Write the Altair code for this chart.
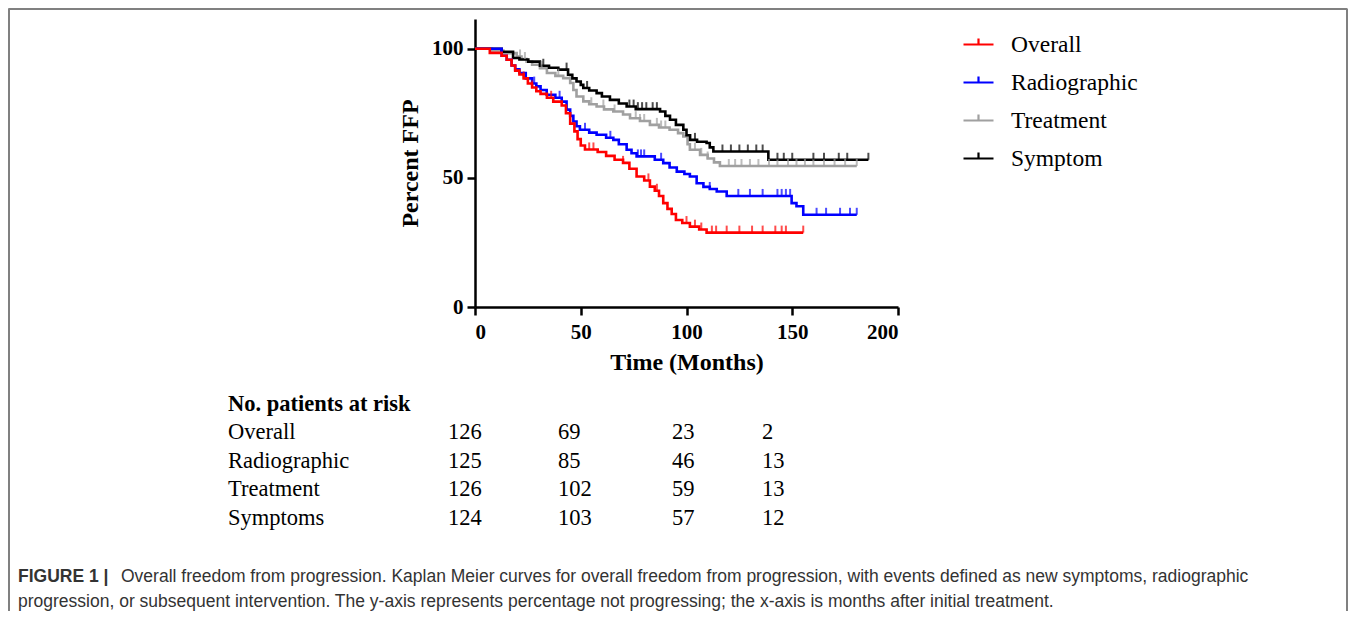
import altair as alt
import pandas as pd

# ---------------- data ----------------
series_names = ["Overall", "Radiographic", "Treatment", "Symptom"]
series_colors = ["#ff0000", "#0000ff", "#a0a0a0", "#000000"]

overall_t = [0, 7, 12.6, 15, 17.3, 19, 21, 23, 25, 27, 29, 31, 34, 37, 41, 43, 45, 47, 48.5, 50,
             52, 58, 62, 66, 70, 73, 76.4, 80, 82.7, 85, 87, 89, 91, 93, 95, 98, 101.6, 106, 109.5]
overall_s = [100, 98.4, 97.3, 95.7, 93.5, 91.5, 90, 88.5, 86.5, 85, 83.5, 82.5, 81, 79.5, 78, 75, 71, 68, 65, 62.5,
             61, 60, 58.5, 57, 55.8, 53.5, 50.5, 49, 46.6, 45, 43, 40.2, 38, 36, 33.7, 32.5, 31.1, 30, 28.8]
overall_end = 155.2
overall_censor = [23, 27, 36, 54, 56, 70, 82, 86, 100, 104, 107, 112, 114, 119, 125, 131, 136, 142, 145, 147, 155.2]

radio_t = [0, 12.6, 15, 17.3, 19, 21, 24, 27, 29, 31, 33.9, 38, 41, 43.3, 45, 46.5, 48, 49.6, 54, 57.5,
           62, 65.4, 68, 71.7, 74, 76.4, 85, 89, 92, 95.4, 99, 101.6, 104.8, 108, 111, 114.3, 119, 149.7, 152, 155.2]
radio_s = [100, 97.3, 95.7, 93.5, 92, 90.6, 88.5, 86.5, 85.4, 84, 82.2, 81, 79.5, 76.4, 74, 71.8, 70, 68.6, 67.5, 66.7,
           65.5, 64.7, 63, 60.9, 59.5, 58.3, 57, 55.7, 54, 52.4, 51.5, 50.5, 47.9, 46.5, 45.7, 44.7, 43, 40.2, 39, 35.7]
radio_end = 180.5
radio_censor = [28, 40, 52, 64, 77, 78.5, 80, 88, 111, 124.5, 130, 136, 143, 145, 147, 149, 161.5, 166, 172.6, 177.3, 180.5]

treat_t = [0, 8, 13.4, 19.7, 22, 24.4, 27, 30.7, 34, 38, 41.7, 45, 46.5, 48, 51.2, 54, 57.5, 61, 65.4, 70,
           73.3, 78, 82.7, 87, 92, 96, 98.5, 100.5, 101.6, 106.4, 110, 113, 115.8]
treat_s = [100, 99.3, 98.3, 97, 96, 95, 93.8, 92.5, 90.6, 89.5, 88.6, 86.7, 84, 81.5, 79.6, 78.5, 77.6, 76.5, 75.7, 74.5,
           73.1, 72, 70.5, 69.5, 68.6, 67.3, 66, 63, 60.9, 58.9, 57.5, 56, 54.6]
treat_end = 180.5
treat_censor = [21.3, 23.6, 31.5, 39.4, 45, 55, 60.7, 66, 76, 78, 80, 86, 88, 90, 104, 107, 110, 120, 123, 126,
                130, 134, 139, 143, 148, 152, 156, 160, 165, 170, 175, 180.5]

symp_t = [0, 12.6, 18, 21, 25.2, 30.7, 35, 39.4, 44, 46, 48, 50, 51.2, 54, 57.5, 60, 63.8, 68, 71.7, 76,
          87.5, 90, 92.2, 95, 98.5, 100, 101.7, 105, 109.5, 111, 112.7, 138.7]
symp_s = [100, 98.8, 96.4, 95.8, 95, 93.4, 92.6, 91.9, 89.9, 88.5, 87.3, 86, 84.8, 83.8, 82.8, 81.5, 80.2, 78.8, 77.6, 76.6,
          75.7, 74, 72.5, 70.5, 68.6, 66.5, 64.7, 64, 63.5, 61.8, 60.2, 57]
symp_end = 186
symp_censor = [32.3, 43.3, 53, 73, 75, 77, 79, 81, 84, 86, 104, 117, 121, 125, 129, 133, 136, 143, 146, 150,
               160, 165, 172, 176, 186]

risk_title = "No. patients at risk"
risk_rows = ["Overall", "Radiographic", "Treatment", "Symptoms"]
risk_overall = [126, 69, 23, 2]
risk_radio = [125, 85, 46, 13]
risk_treat = [126, 102, 59, 13]
risk_symp = [124, 103, 57, 12]

caption_bold = "FIGURE 1 |"
caption_line1 = ("Overall freedom from progression. Kaplan Meier curves for overall freedom from progression, "
                 "with events defined as new symptoms, radiographic")
caption_line2 = ("progression, or subsequent intervention. The y-axis represents percentage not progressing; "
                 "the x-axis is months after initial treatment.")

x_ticks = [0, 50, 100, 150, 200]
y_ticks = [0, 50, 100]

# ---------------- layout (page pixels) ----------------
OX, OY = 475, 19          # plot origin on page
W, H = 423, 288
PAD_L, PAD_T = OX - 8, OY - 8
TOTAL_W, TOTAL_H = 1340, 603


def px(x):
    return x - OX


def py(y):
    return y - OY


series = {
    "Overall": (overall_t, overall_s, overall_end, overall_censor),
    "Radiographic": (radio_t, radio_s, radio_end, radio_censor),
    "Treatment": (treat_t, treat_s, treat_end, treat_censor),
    "Symptom": (symp_t, symp_s, symp_end, symp_censor),
}


def surv_at(ts, ss, t):
    v = ss[0]
    for a, b in zip(ts, ss):
        if a <= t:
            v = b
    return v


color_scale = alt.Scale(domain=series_names, range=series_colors)
legend = alt.Legend(
    orient="none", legendX=487, legendY=9, title=None,
    symbolType="M-1,0H1M0,0V-0.4", symbolSize=900, symbolStrokeWidth=2.2,
    labelFont="Liberation Serif", labelFontSize=23.5, labelColor="black",
    labelOffset=16, rowPadding=10, padding=0,
)
x_enc = alt.X("t:Q", scale=alt.Scale(domain=[0, 200], nice=False),
              axis=alt.Axis(values=x_ticks, title="Time (Months)", labelPadding=6, titlePadding=8))
y_enc = alt.Y("s:Q", scale=alt.Scale(domain=[0, 111.5], nice=False),
              axis=alt.Axis(values=y_ticks, title="Percent FFP", labelPadding=4, titlePadding=9))

layers = []
draw_order = ["Treatment", "Symptom", "Radiographic", "Overall"]
for name in draw_order:
    ts, ss, end, cens = series[name]
    df = pd.DataFrame({"t": list(ts) + [end], "s": list(ss) + [ss[-1]], "series": name})
    layers.append(
        alt.Chart(df).mark_line(interpolate="step-after", strokeWidth=2.6).encode(
            x=x_enc, y=y_enc, color=alt.Color("series:N", scale=color_scale, legend=legend)
        )
    )
for name in draw_order:
    ts, ss, end, cens = series[name]
    col = series_colors[series_names.index(name)]
    cdf = pd.DataFrame({"t": cens, "s": [surv_at(ts, ss, c) for c in cens]})
    layers.append(
        alt.Chart(cdf).mark_tick(orient="vertical", thickness=2, size=7, yOffset=-3.5, color=col).encode(
            x="t:Q", y="s:Q"
        )
    )

# risk table
risk_col_x = [448, 558, 672, 762]
risk_row_y = [439, 467.7, 496.4, 525]
risk_vals = [risk_overall, risk_radio, risk_treat, risk_symp]
tbl = []
for i, lab in enumerate(risk_rows):
    tbl.append({"txt": lab, "x": px(228), "y": py(risk_row_y[i])})
    for j, v in enumerate(risk_vals[i]):
        tbl.append({"txt": str(v), "x": px(risk_col_x[j]), "y": py(risk_row_y[i])})
tbl_df = pd.DataFrame(tbl)
layers.append(
    alt.Chart(tbl_df).mark_text(align="left", baseline="alphabetic", font="Liberation Serif",
                                fontSize=22.5, color="black").encode(
        x=alt.X("x:Q", scale=None), y=alt.Y("y:Q", scale=None), text="txt:N")
)
layers.append(
    alt.Chart(pd.DataFrame({"txt": [risk_title], "x": [px(228)], "y": [py(411)]})).mark_text(
        align="left", baseline="alphabetic", font="Liberation Serif", fontSize=22.5,
        fontWeight="bold", color="black").encode(
        x=alt.X("x:Q", scale=None), y=alt.Y("y:Q", scale=None), text="txt:N")
)

# caption
cap_bold_df = pd.DataFrame({"txt": [caption_bold], "x": [px(18)], "y": [py(582)]})
cap_df = pd.DataFrame({"txt": [caption_line1, caption_line2],
                       "x": [px(121), px(18)], "y": [py(582), py(607)]})
layers.append(
    alt.Chart(cap_bold_df).mark_text(align="left", baseline="alphabetic", font="Liberation Sans",
                                     fontSize=17.5, fontWeight="bold", color="#333333").encode(
        x=alt.X("x:Q", scale=None), y=alt.Y("y:Q", scale=None), text="txt:N")
)
layers.append(
    alt.Chart(cap_df).mark_text(align="left", baseline="alphabetic", font="Liberation Sans",
                                fontSize=17.5, color="#333333").encode(
        x=alt.X("x:Q", scale=None), y=alt.Y("y:Q", scale=None), text="txt:N")
)

# frame border
one = pd.DataFrame({"a": [0]})
border_col = "#808080"
layers.append(alt.Chart(one).mark_rule(color=border_col, strokeWidth=2).encode(
    x=alt.value(px(8.5)), x2=alt.value(px(1347)), y=alt.value(py(9))))
layers.append(alt.Chart(one).mark_rule(color=border_col, strokeWidth=2).encode(
    x=alt.value(px(9)), y=alt.value(py(8.5)), y2=alt.value(py(611))))
layers.append(alt.Chart(one).mark_rule(color=border_col, strokeWidth=2).encode(
    x=alt.value(px(1347)), y=alt.value(py(8.5)), y2=alt.value(py(611))))

chart = alt.layer(*layers).properties(
    width=W, height=H,
    padding={"left": PAD_L, "top": PAD_T, "right": TOTAL_W - PAD_L - W, "bottom": TOTAL_H - PAD_T - H},
    autosize=alt.AutoSizeParams(type="none"),
).configure_axis(
    domainColor="black", domainWidth=2.5, tickColor="black", tickWidth=2.5, tickSize=8,
    labelFont="Liberation Serif", labelFontWeight="bold", labelFontSize=21, labelColor="black",
    titleFont="Liberation Serif", titleFontWeight="bold", titleFontSize=24, titleColor="black",
    grid=False,
).configure_view(stroke=None)

chart.save("out.html", embed_options={"renderer": "svg", "actions": False})
